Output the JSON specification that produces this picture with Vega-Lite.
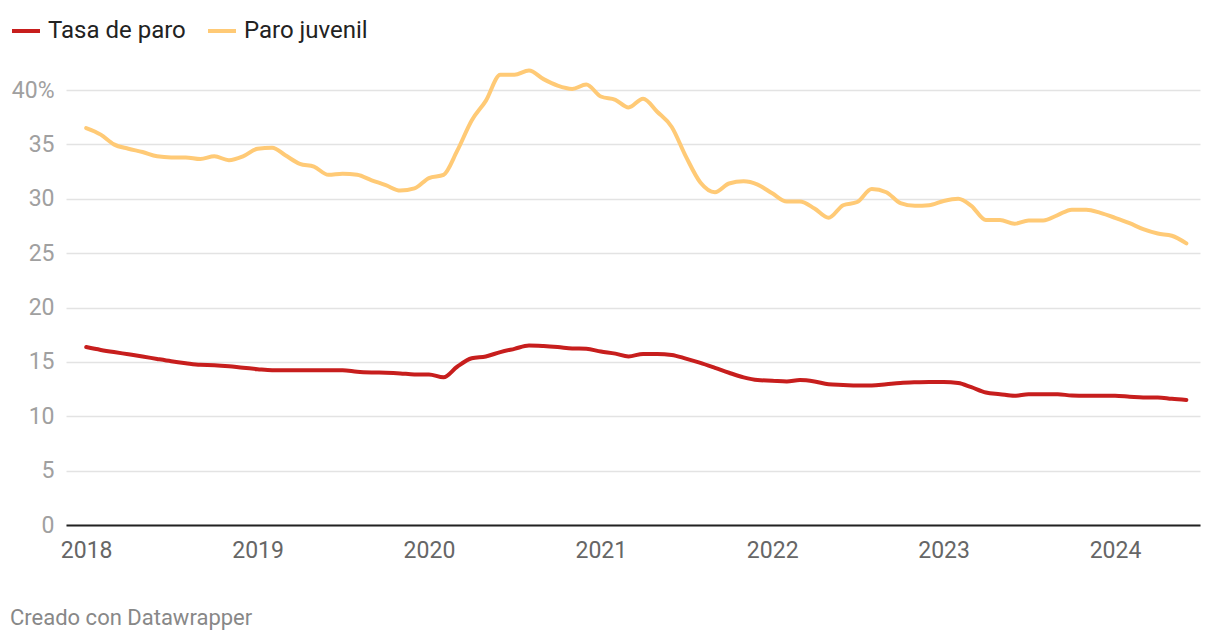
{
  "$schema": "https://vega.github.io/schema/vega-lite/v6.json",
  "autosize": {"type": "none"},
  "width": 1134,
  "height": 435,
  "padding": {"left": 66, "top": 90, "right": 20, "bottom": 117},
  "background": "white",
  "config": {
    "font": "Roboto",
    "view": {"stroke": null}
  },
  "title": {
    "text": "Creado con Datawrapper",
    "orient": "bottom",
    "anchor": "start",
    "frame": "group",
    "dx": -56,
    "offset": 46,
    "fontSize": 22,
    "fontWeight": "normal",
    "color": "#888888",
    "font": "Roboto"
  },
  "data": {
    "values": [
      {"fecha": "2018-01-01", "Tasa de paro": 16.36, "Paro juvenil": 36.5},
      {"fecha": "2018-02-01", "Tasa de paro": 16.1, "Paro juvenil": 35.9},
      {"fecha": "2018-03-01", "Tasa de paro": 15.9, "Paro juvenil": 35.0},
      {"fecha": "2018-04-01", "Tasa de paro": 15.7, "Paro juvenil": 34.6},
      {"fecha": "2018-05-01", "Tasa de paro": 15.5, "Paro juvenil": 34.3},
      {"fecha": "2018-06-01", "Tasa de paro": 15.27, "Paro juvenil": 33.9},
      {"fecha": "2018-07-01", "Tasa de paro": 15.06, "Paro juvenil": 33.8},
      {"fecha": "2018-08-01", "Tasa de paro": 14.88, "Paro juvenil": 33.8},
      {"fecha": "2018-09-01", "Tasa de paro": 14.73, "Paro juvenil": 33.65},
      {"fecha": "2018-10-01", "Tasa de paro": 14.7, "Paro juvenil": 33.9},
      {"fecha": "2018-11-01", "Tasa de paro": 14.6, "Paro juvenil": 33.55},
      {"fecha": "2018-12-01", "Tasa de paro": 14.45, "Paro juvenil": 33.9},
      {"fecha": "2019-01-01", "Tasa de paro": 14.33, "Paro juvenil": 34.6},
      {"fecha": "2019-02-01", "Tasa de paro": 14.24, "Paro juvenil": 34.7},
      {"fecha": "2019-03-01", "Tasa de paro": 14.24, "Paro juvenil": 34.0},
      {"fecha": "2019-04-01", "Tasa de paro": 14.24, "Paro juvenil": 33.2},
      {"fecha": "2019-05-01", "Tasa de paro": 14.24, "Paro juvenil": 32.95},
      {"fecha": "2019-06-01", "Tasa de paro": 14.24, "Paro juvenil": 32.2},
      {"fecha": "2019-07-01", "Tasa de paro": 14.24, "Paro juvenil": 32.3},
      {"fecha": "2019-08-01", "Tasa de paro": 14.1, "Paro juvenil": 32.2},
      {"fecha": "2019-09-01", "Tasa de paro": 14.03, "Paro juvenil": 31.7},
      {"fecha": "2019-10-01", "Tasa de paro": 14.0, "Paro juvenil": 31.25},
      {"fecha": "2019-11-01", "Tasa de paro": 13.94, "Paro juvenil": 30.75},
      {"fecha": "2019-12-01", "Tasa de paro": 13.85, "Paro juvenil": 30.95},
      {"fecha": "2020-01-01", "Tasa de paro": 13.85, "Paro juvenil": 31.9},
      {"fecha": "2020-02-01", "Tasa de paro": 13.58, "Paro juvenil": 32.2},
      {"fecha": "2020-03-01", "Tasa de paro": 14.55, "Paro juvenil": 34.4},
      {"fecha": "2020-04-01", "Tasa de paro": 15.33, "Paro juvenil": 37.2},
      {"fecha": "2020-05-01", "Tasa de paro": 15.5, "Paro juvenil": 39.0},
      {"fecha": "2020-06-01", "Tasa de paro": 15.9, "Paro juvenil": 41.4},
      {"fecha": "2020-07-01", "Tasa de paro": 16.2, "Paro juvenil": 41.4},
      {"fecha": "2020-08-01", "Tasa de paro": 16.5, "Paro juvenil": 41.8},
      {"fecha": "2020-09-01", "Tasa de paro": 16.45, "Paro juvenil": 41.0},
      {"fecha": "2020-10-01", "Tasa de paro": 16.36, "Paro juvenil": 40.4},
      {"fecha": "2020-11-01", "Tasa de paro": 16.24, "Paro juvenil": 40.1},
      {"fecha": "2020-12-01", "Tasa de paro": 16.2, "Paro juvenil": 40.5},
      {"fecha": "2021-01-01", "Tasa de paro": 15.95, "Paro juvenil": 39.4},
      {"fecha": "2021-02-01", "Tasa de paro": 15.76, "Paro juvenil": 39.1},
      {"fecha": "2021-03-01", "Tasa de paro": 15.5, "Paro juvenil": 38.4},
      {"fecha": "2021-04-01", "Tasa de paro": 15.73, "Paro juvenil": 39.2},
      {"fecha": "2021-05-01", "Tasa de paro": 15.73, "Paro juvenil": 38.0},
      {"fecha": "2021-06-01", "Tasa de paro": 15.64, "Paro juvenil": 36.6},
      {"fecha": "2021-07-01", "Tasa de paro": 15.3, "Paro juvenil": 33.9},
      {"fecha": "2021-08-01", "Tasa de paro": 14.9, "Paro juvenil": 31.5},
      {"fecha": "2021-09-01", "Tasa de paro": 14.45, "Paro juvenil": 30.6},
      {"fecha": "2021-10-01", "Tasa de paro": 14.0, "Paro juvenil": 31.4},
      {"fecha": "2021-11-01", "Tasa de paro": 13.58, "Paro juvenil": 31.6},
      {"fecha": "2021-12-01", "Tasa de paro": 13.33, "Paro juvenil": 31.3},
      {"fecha": "2022-01-01", "Tasa de paro": 13.27, "Paro juvenil": 30.5},
      {"fecha": "2022-02-01", "Tasa de paro": 13.2, "Paro juvenil": 29.75},
      {"fecha": "2022-03-01", "Tasa de paro": 13.33, "Paro juvenil": 29.75},
      {"fecha": "2022-04-01", "Tasa de paro": 13.2, "Paro juvenil": 29.1},
      {"fecha": "2022-05-01", "Tasa de paro": 12.94, "Paro juvenil": 28.25},
      {"fecha": "2022-06-01", "Tasa de paro": 12.88, "Paro juvenil": 29.4},
      {"fecha": "2022-07-01", "Tasa de paro": 12.82, "Paro juvenil": 29.7},
      {"fecha": "2022-08-01", "Tasa de paro": 12.82, "Paro juvenil": 30.9},
      {"fecha": "2022-09-01", "Tasa de paro": 12.94, "Paro juvenil": 30.6},
      {"fecha": "2022-10-01", "Tasa de paro": 13.06, "Paro juvenil": 29.6},
      {"fecha": "2022-11-01", "Tasa de paro": 13.12, "Paro juvenil": 29.35},
      {"fecha": "2022-12-01", "Tasa de paro": 13.15, "Paro juvenil": 29.4},
      {"fecha": "2023-01-01", "Tasa de paro": 13.15, "Paro juvenil": 29.8},
      {"fecha": "2023-02-01", "Tasa de paro": 13.06, "Paro juvenil": 30.0},
      {"fecha": "2023-03-01", "Tasa de paro": 12.67, "Paro juvenil": 29.35},
      {"fecha": "2023-04-01", "Tasa de paro": 12.18, "Paro juvenil": 28.05},
      {"fecha": "2023-05-01", "Tasa de paro": 12.03, "Paro juvenil": 28.05},
      {"fecha": "2023-06-01", "Tasa de paro": 11.88, "Paro juvenil": 27.7},
      {"fecha": "2023-07-01", "Tasa de paro": 12.03, "Paro juvenil": 28.0},
      {"fecha": "2023-08-01", "Tasa de paro": 12.03, "Paro juvenil": 28.0},
      {"fecha": "2023-09-01", "Tasa de paro": 12.03, "Paro juvenil": 28.5},
      {"fecha": "2023-10-01", "Tasa de paro": 11.9, "Paro juvenil": 29.0},
      {"fecha": "2023-11-01", "Tasa de paro": 11.88, "Paro juvenil": 29.0},
      {"fecha": "2023-12-01", "Tasa de paro": 11.88, "Paro juvenil": 28.7},
      {"fecha": "2024-01-01", "Tasa de paro": 11.88, "Paro juvenil": 28.25},
      {"fecha": "2024-02-01", "Tasa de paro": 11.8, "Paro juvenil": 27.75},
      {"fecha": "2024-03-01", "Tasa de paro": 11.73, "Paro juvenil": 27.2},
      {"fecha": "2024-04-01", "Tasa de paro": 11.73, "Paro juvenil": 26.8},
      {"fecha": "2024-05-01", "Tasa de paro": 11.6, "Paro juvenil": 26.6},
      {"fecha": "2024-06-01", "Tasa de paro": 11.5, "Paro juvenil": 25.9}
    ]
  },
  "transform": [
    {"fold": ["Tasa de paro", "Paro juvenil"], "as": ["serie", "valor"]}
  ],
  "mark": {"type": "line", "interpolate": "monotone", "strokeWidth": 4, "strokeCap": "round", "strokeJoin": "round", "clip": false},
  "encoding": {
    "x": {
      "field": "fecha",
      "type": "temporal",
      "scale": {"domain": [1511049600000, 1719705600000]},
      "axis": {
        "title": null,
        "format": "%Y",
        "tickCount": "year",
        "ticks": false,
        "grid": false,
        "domain": true,
        "domainColor": "#222222",
        "domainWidth": 2,
        "labelFont": "Roboto",
        "labelFontSize": 23,
        "labelColor": "#666666",
        "labelPadding": 14,
        "labelFlush": false
      }
    },
    "y": {
      "field": "valor",
      "type": "quantitative",
      "scale": {"domain": [0, 40], "nice": false},
      "axis": {
        "title": null,
        "values": [0, 5, 10, 15, 20, 25, 30, 35, 40],
        "labelExpr": "datum.value == 40 ? '40%' : datum.label",
        "ticks": false,
        "domain": false,
        "grid": true,
        "gridColor": "#e3e3e3",
        "gridWidth": 1.5,
        "labelFont": "Roboto",
        "labelFontSize": 23,
        "labelColor": "#a0a0a0",
        "labelPadding": 12
      }
    },
    "color": {
      "field": "serie",
      "type": "nominal",
      "scale": {"domain": ["Tasa de paro", "Paro juvenil"], "range": ["#c71e1d", "#ffca76"]},
      "legend": {
        "title": null,
        "orient": "none",
        "legendX": -56,
        "legendY": -75,
        "direction": "horizontal",
        "symbolType": "stroke",
        "symbolSize": 784,
        "symbolStrokeWidth": 4,
        "labelFont": "Roboto",
        "labelFontSize": 24,
        "labelColor": "#222222",
        "labelOffset": 6,
        "columnPadding": 14
      }
    }
  }
}
